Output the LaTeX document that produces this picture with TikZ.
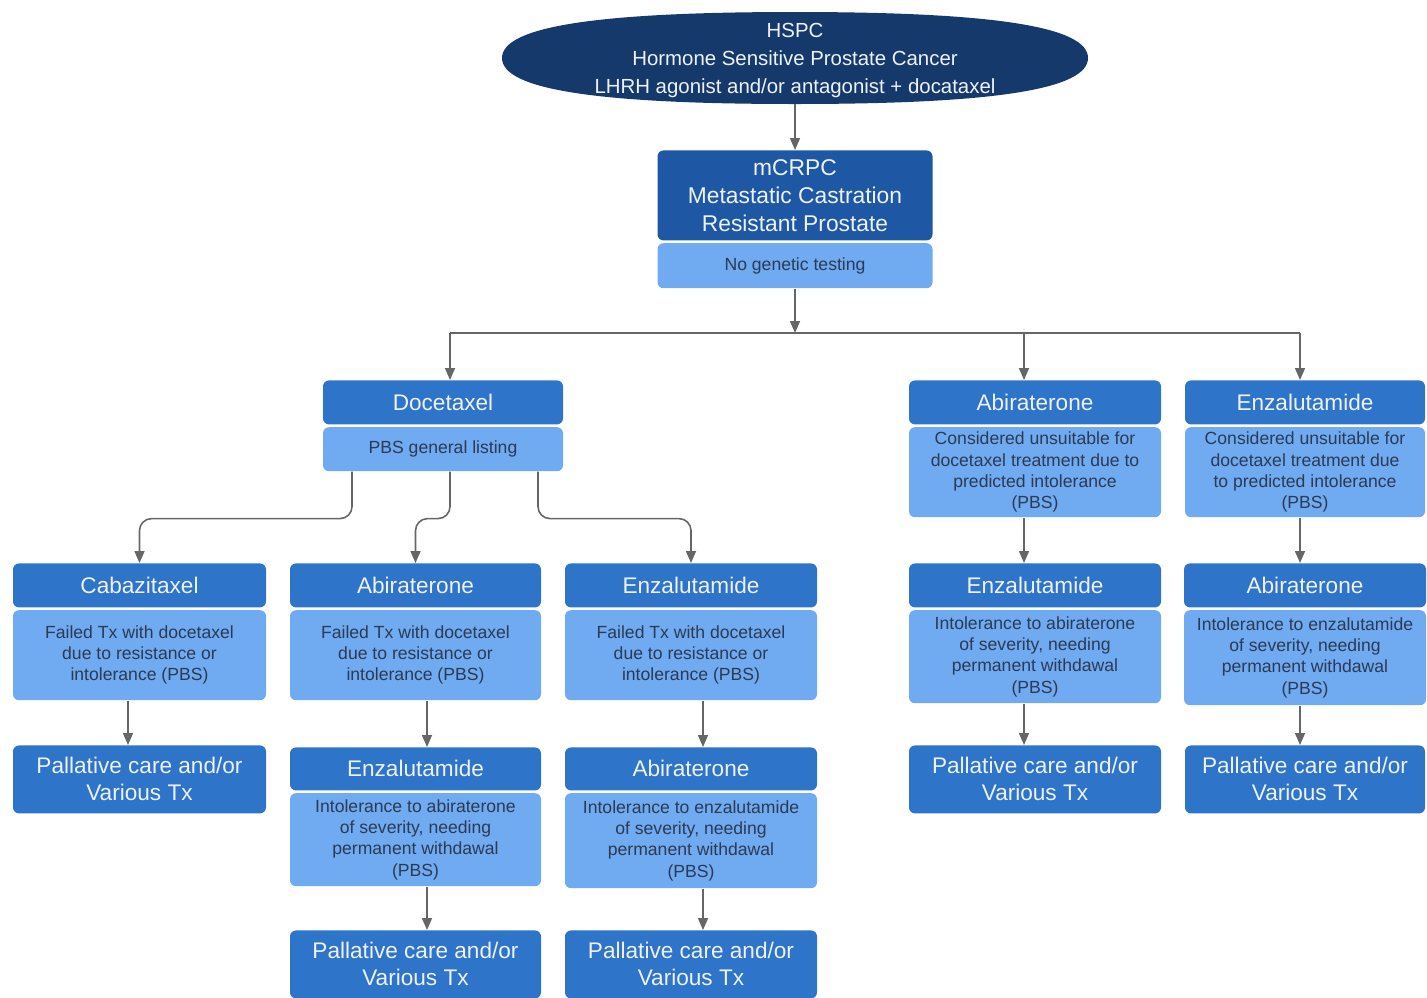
\documentclass[tikz,border=0pt]{standalone}
\usepackage{fontspec}
\setmainfont{Liberation Sans}
\usetikzlibrary{positioning,arrows.meta}

\definecolor{navy}{HTML}{16396B}
\definecolor{midblue}{HTML}{1E58A5}
\definecolor{hdrblue}{HTML}{2E74C8}
\definecolor{bodyblue}{HTML}{70AAF0}
\definecolor{hdrtext}{HTML}{EEF2F8}
\definecolor{bodytext}{HTML}{2B3A55}
\definecolor{linegray}{HTML}{666666}

\begin{document}
\begin{tikzpicture}[x=0.5pt, y=-0.5pt, >={Triangle[width=5pt,length=6pt]},
  hdr/.style={rectangle, rounded corners=3pt, fill=hdrblue, text=hdrtext, minimum height=22pt,
    inner sep=1pt, align=center, anchor=north, font=\fontsize{11.3}{13.5}\selectfont},
  body/.style={rectangle, rounded corners=3pt, fill=bodyblue, text=bodytext, inner sep=1pt,
    align=center, font=\fontsize{8.8}{10.6}\selectfont},
  care/.style={hdr, minimum height=34pt},
  link/.style={draw=linegray, line width=0.8pt},
  arr/.style={link, ->}]

  \useasboundingbox (0,0) rectangle (1427,997);

  % Top: HSPC and mCRPC
  \fill[navy] (502,58) .. controls (502,26.7) and (595.8,12) .. (795,12)
    .. controls (994.2,12) and (1088,26.7) .. (1088,58)
    .. controls (1088,89.3) and (994.2,104) .. (795,104)
    .. controls (595.8,104) and (502,89.3) .. (502,58) -- cycle;
  \node[text=hdrtext, font=\fontsize{10.2}{14}\selectfont, align=center, minimum height=44pt, inner sep=0pt]
    (hspc) at (795,60) {HSPC\\Hormone Sensitive Prostate Cancer\\LHRH agonist and/or antagonist + docataxel};
  \node[hdr, fill=midblue, minimum width=137.5pt, minimum height=45pt, font=\fontsize{11.4}{14}\selectfont]
    (mcrpc) at (795,150) {mCRPC\\Metastatic Castration\\Resistant Prostate};
  \node[body, minimum width=137.5pt, minimum height=22.5pt, below=1pt of mcrpc] (nogen) {No genetic testing};
  \draw[arr] (hspc.south) -- (mcrpc.north);

  \coordinate (split) at (795,333);
  \coordinate (splitL) at (450,333);
  \coordinate (splitM) at (1024,333);
  \coordinate (splitR) at (1300,333);
  \draw[arr] (nogen) -- (split);
  \draw[link] (splitL) -- (splitR);

  % Left: Docetaxel branch
  \node[hdr, minimum width=120pt] (doce) at (443,380) {Docetaxel};
  \node[body, minimum width=120pt, minimum height=22pt, below=1pt of doce] (doceB) {PBS general listing};
  \draw[arr] (splitL) -- (splitL |- doce.north);

  \node[hdr, minimum width=126.5pt] (caba) at (139.5,563) {Cabazitaxel};
  \node[body, minimum width=126.5pt, minimum height=45pt, below=1pt of caba] (cabaB)
    {Failed Tx with docetaxel\\due to resistance or\\intolerance (PBS)};
  \node[care, minimum width=126.5pt] (cabaPal) at (139.5,745) {Pallative care and/or\\Various Tx};

  \node[hdr, minimum width=125.5pt] (abi) at (415.5,563) {Abiraterone};
  \node[body, minimum width=125.5pt, minimum height=45pt, below=1pt of abi] (abiB)
    {Failed Tx with docetaxel\\due to resistance or\\intolerance (PBS)};
  \node[hdr, minimum width=125.5pt, minimum height=21.5pt] (abiEnz) at (415.5,747) {Enzalutamide};
  \node[body, minimum width=125.5pt, minimum height=46.5pt, below=1pt of abiEnz] (abiEnzB)
    {Intolerance to abiraterone\\of severity, needing\\permanent withdawal\\(PBS)};
  \node[care, minimum width=125.5pt] (abiPal) at (415.5,930) {Pallative care and/or\\Various Tx};

  \node[hdr, minimum width=126pt] (enz) at (691,563) {Enzalutamide};
  \node[body, minimum width=126pt, minimum height=45pt, below=1pt of enz] (enzB)
    {Failed Tx with docetaxel\\due to resistance or\\intolerance (PBS)};
  \node[hdr, minimum width=126pt, minimum height=21.5pt] (enzAbi) at (691,747) {Abiraterone};
  \node[body, minimum width=126pt, minimum height=47.5pt, below=1pt of enzAbi] (enzAbiB)
    {Intolerance to enzalutamide\\of severity, needing\\permanent withdawal\\(PBS)};
  \node[care, minimum width=126pt] (enzPal) at (691,930) {Pallative care and/or\\Various Tx};

  \draw[arr, rounded corners=6pt] ([xshift=-45.5pt]doceB.south) -- ++(0,47) -| (caba.north);
  \draw[arr, rounded corners=6pt] ([xshift=3.5pt]doceB.south) -- ++(0,47) -| (abi.north);
  \draw[arr, rounded corners=6pt] ([xshift=47.5pt]doceB.south) -- ++(0,47) -| (enz.north);
  \draw[arr] ([xshift=-5.75pt]cabaB.south) -- ([xshift=-5.75pt]cabaPal.north);
  \draw[arr] ([xshift=5.75pt]abiB.south) -- ([xshift=5.75pt]abiEnz.north);
  \draw[arr] ([xshift=5.75pt]abiEnzB.south) -- ([xshift=5.75pt]abiPal.north);
  \draw[arr] ([xshift=6pt]enzB.south) -- ([xshift=6pt]enzAbi.north);
  \draw[arr] ([xshift=6pt]enzAbiB.south) -- ([xshift=6pt]enzPal.north);

  % Right: first line without docetaxel
  \node[hdr, minimum width=126pt] (abiR) at (1035,380) {Abiraterone};
  \node[body, minimum width=126pt, minimum height=45pt, below=1pt of abiR] (abiRB)
    {Considered unsuitable for\\docetaxel treatment due to\\predicted intolerance\\(PBS)};
  \node[hdr, minimum width=126pt] (abiREnz) at (1035,563) {Enzalutamide};
  \node[body, minimum width=126pt, minimum height=46.5pt, below=1pt of abiREnz] (abiREnzB)
    {Intolerance to abiraterone\\of severity, needing\\permanent withdawal\\(PBS)};
  \node[care, minimum width=126pt] (abiRPal) at (1035,745) {Pallative care and/or\\Various Tx};

  \node[hdr, minimum width=120pt] (enzR) at (1305,380) {Enzalutamide};
  \node[body, minimum width=120pt, minimum height=45pt, below=1pt of enzR] (enzRB)
    {Considered unsuitable for\\docetaxel treatment due\\to predicted intolerance\\(PBS)};
  \node[hdr, minimum width=121pt] (enzRAbi) at (1305,563) {Abiraterone};
  \node[body, minimum width=121pt, minimum height=47.5pt, below=1pt of enzRAbi] (enzRAbiB)
    {Intolerance to enzalutamide\\of severity, needing\\permanent withdawal\\(PBS)};
  \node[care, minimum width=120pt] (enzRPal) at (1305,745) {Pallative care and/or\\Various Tx};

  \draw[arr] (splitM) -- (splitM |- abiR.north);
  \draw[arr] (splitR) -- (splitR |- enzR.north);
  \draw[arr] ([xshift=-5.5pt]abiRB.south) -- ([xshift=-5.5pt]abiREnz.north);
  \draw[arr] ([xshift=-5.5pt]abiREnzB.south) -- ([xshift=-5.5pt]abiRPal.north);
  \draw[arr] ([xshift=-2.5pt]enzRB.south) -- ([xshift=-2.5pt]enzRAbi.north);
  \draw[arr] ([xshift=-2.5pt]enzRAbiB.south) -- ([xshift=-2.5pt]enzRPal.north);
\end{tikzpicture}
\end{document}
